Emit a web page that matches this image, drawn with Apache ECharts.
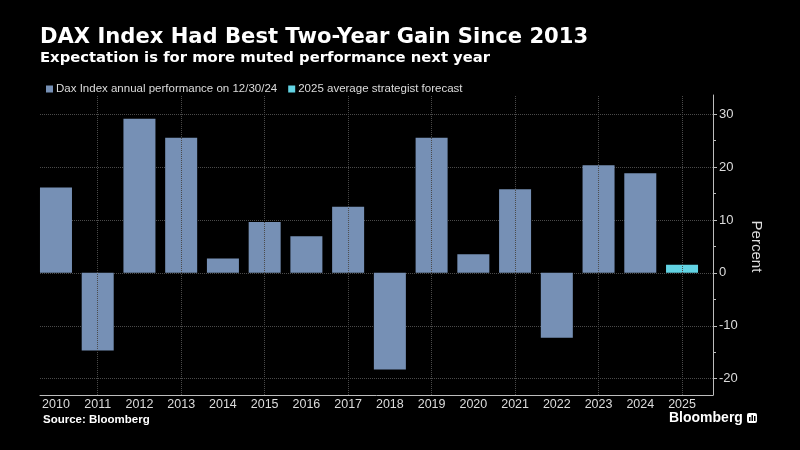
<!DOCTYPE html>
<html>
<head>
<meta charset="utf-8">
<script src="https://cdn.jsdelivr.net/npm/echarts@6/dist/echarts.min.js"></script>
<style>
html,body{margin:0;padding:0;background:#000;}
#chart{width:800px;height:450px;}
</style>
</head>
<body>
<div id="chart"></div>
<script>
// ---- data ----
const years = ['2010','2011','2012','2013','2014','2015','2016','2017','2018','2019','2020','2021','2022','2023','2024','2025'];
const daxPerformance = [16.1, -14.7, 29.1, 25.5, 2.7, 9.6, 6.9, 12.5, -18.3, 25.5, 3.5, 15.8, -12.3, 20.3, 18.8, null];
const strategistForecast = [null, null, null, null, null, null, null, null, null, null, null, null, null, null, null, 1.5];
const yTickValues = [-20, -10, 0, 10, 20, 30];
const yExtent = [-23.1, 33.6];

const titleText = 'DAX Index Had Best Two-Year Gain Since 2013';
const subtitleText = 'Expectation is for more muted performance next year';
const seriesNames = ['Dax Index annual performance on 12/30/24', '2025 average strategist forecast'];

const FONT = "'Liberation Sans', Arial, sans-serif";
const HEAD = "'DejaVu Sans', Verdana, sans-serif";
const BAR = '#7690B5';
const CYAN = '#62D3E3';
const GRIDC = '#4a4a4a';
const AXISC = '#bdbdbd';
const TEXTC = '#dcdcdc';

const chart = echarts.init(document.getElementById('chart'), null, {renderer: 'canvas'});

const option = {
  backgroundColor: '#000',
  animation: false,
  textStyle: {fontFamily: FONT},
  title: [
    {text: titleText, left: 40, top: 27, padding: 0, textStyle: {color: '#fff', fontSize: 21.1, fontWeight: 'bold', fontFamily: HEAD}},
    {text: subtitleText, left: 40, top: 51, padding: 0, textStyle: {color: '#fff', fontSize: 14.8, fontWeight: 'bold', fontFamily: HEAD}},
    {text: 'Source: Bloomberg', left: 43, top: 414, padding: 0, textStyle: {color: '#fff', fontSize: 11.5, fontWeight: 'bold', fontFamily: FONT}},
    {text: 'Bloomberg', left: 669, top: 411, padding: 0, textStyle: {color: '#fff', fontSize: 14, fontWeight: 'bold', fontFamily: FONT}}
  ],
  legend: {
    data: seriesNames,
    left: 41,
    top: 78,
    icon: 'rect',
    itemWidth: 7,
    itemHeight: 7,
    itemGap: 11,
    textStyle: {color: TEXTC, fontSize: 11.5, fontFamily: FONT, padding: [0, 0, 0, -2]}
  },
  grid: [
    {left: 35.1, right: 97.1, top: 95, bottom: 55},
    {left: 40, right: 87, top: 114.2, bottom: 71.3}
  ],
  xAxis: [
    {
      type: 'category', gridIndex: 0, data: years,
      axisLine: {show: false}, axisTick: {show: false}, splitLine: {show: false},
      axisLabel: {color: TEXTC, fontSize: 12.5, margin: 3, fontFamily: FONT}
    },
    {
      type: 'value', gridIndex: 1, min: 0, max: 1, position: 'bottom', offset: 16.3,
      axisLine: {show: true, onZero: false, lineStyle: {color: AXISC, width: 1}},
      axisTick: {show: false}, axisLabel: {show: false}, splitLine: {show: false}
    }
  ],
  yAxis: [
    {
      type: 'value', gridIndex: 0, min: yExtent[0], max: yExtent[1], position: 'right', offset: 10.1,
      axisLine: {show: true, onZero: false, lineStyle: {color: AXISC, width: 1}},
      axisTick: {show: false}, axisLabel: {show: false}, splitLine: {show: false}
    },
    {
      type: 'value', gridIndex: 1, min: yTickValues[0], max: yTickValues[yTickValues.length - 1], interval: 10,
      position: 'right',
      axisLine: {show: false, onZero: false},
      axisTick: {show: true, length: 4, lineStyle: {color: AXISC}},
      minorTick: {show: true, splitNumber: 2, length: 3, lineStyle: {color: AXISC}},
      axisLabel: {color: TEXTC, fontSize: 13, margin: 6, fontFamily: FONT},
      splitLine: {show: true, lineStyle: {color: GRIDC, type: 'dotted', width: 1}},
      name: 'Percent', nameLocation: 'middle', nameRotate: -90, nameGap: 31,
      nameTextStyle: {color: TEXTC, fontSize: 15, fontFamily: FONT}
    }
  ],
  series: [
    {
      name: 'vgrid', type: 'line', xAxisIndex: 0, yAxisIndex: 0, data: [], z: 1, silent: true,
      markLine: {
        silent: true, symbol: ['none', 'none'], label: {show: false},
        lineStyle: {color: GRIDC, type: 'dotted', width: 1},
        data: years.filter((y, i) => i % 2 === 1).map(y => ({xAxis: y}))
      }
    },
    {
      name: seriesNames[0], type: 'bar', xAxisIndex: 0, yAxisIndex: 0, data: daxPerformance,
      barWidth: 32, barGap: '-100%', itemStyle: {color: BAR}, z: 3
    },
    {
      name: seriesNames[1], type: 'bar', xAxisIndex: 0, yAxisIndex: 0, data: strategistForecast,
      barWidth: 32, barGap: '-100%', itemStyle: {color: CYAN}, z: 3
    }
  ],
  graphic: [
    {type: 'rect', left: 747, top: 413, shape: {width: 10, height: 10, r: 2}, style: {fill: '#fff'}},
    {type: 'rect', left: 749, top: 417, shape: {width: 1.5, height: 4}, style: {fill: '#000'}},
    {type: 'rect', left: 751.5, top: 415, shape: {width: 1.5, height: 6}, style: {fill: '#000'}},
    {type: 'rect', left: 754, top: 416, shape: {width: 1.5, height: 5}, style: {fill: '#000'}}
  ]
};
chart.setOption(option);
</script>
</body>
</html>
